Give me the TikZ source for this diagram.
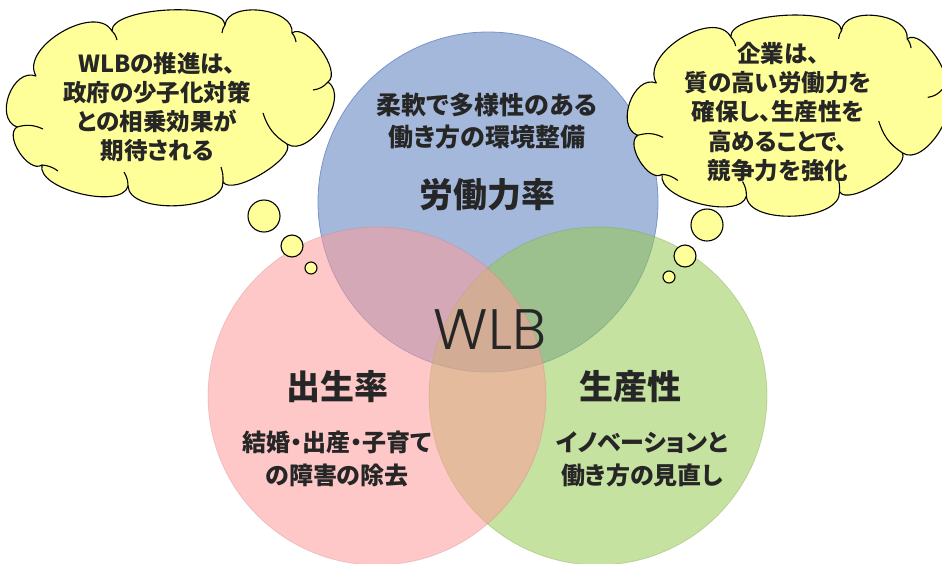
\documentclass[tikz,border=0pt]{standalone}
\usepackage{fontspec}
\usetikzlibrary{calc}
\IfFontExistsTF{Noto Sans CJK JP Black}{\newfontfamily\jpb{Noto Sans CJK JP Black}[RawFeature=+palt]}{%
\IfFontExistsTF{Noto Sans CJK JP Bold}{\newfontfamily\jpb{Noto Sans CJK JP Bold}[RawFeature=+palt,FakeBold=1.3]}{\newfontfamily\jpb{Noto Sans CJK JP}[RawFeature=+palt,FakeBold=2.5]}}
\IfFontExistsTF{Poppins Light}{\newfontfamily\wlbf{Poppins Light}}{\newfontfamily\wlbf{Poppins}}
\definecolor{bluefill}{RGB}{164,184,219}
\definecolor{blueline}{RGB}{120,148,200}
\definecolor{pinkfill}{RGB}{255,155,155}
\definecolor{greenfill}{RGB}{151,202,82}
\definecolor{cloudfill}{RGB}{255,255,153}
\definecolor{txt}{RGB}{38,38,38}
\tikzset{
  venn/.style={circle, inner sep=0pt, minimum size=#1},
  cloudline/.style={draw=black, line width=1.1pt, line join=round},
  bubble/.style={circle, draw=black, line width=1.1pt, fill=cloudfill, inner sep=0pt, minimum size=#1},
  jtext/.style={text=txt, align=center, inner sep=0pt},
}
% one puff of a cloud, from #1 to #2, bulging outwards by the control length #3
\newcommand{\pf}[3]{.. controls ($(#1)!#3!90:(#2)$) and ($(#2)!#3!-90:(#1)$) .. (#2)}
\newcommand{\cloudshape}[1]{%
  \coordinate (#1c1) at (36,76);
  \coordinate (#1c2) at (112,31);
  \coordinate (#1c3) at (225,25);
  \coordinate (#1c4) at (292,33);
  \coordinate (#1c5) at (328,82);
  \coordinate (#1c6) at (287,144);
  \coordinate (#1c7) at (223,182);
  \coordinate (#1c8) at (128,186);
  \coordinate (#1c9) at (42,165);
  \coordinate (#1c10) at (17,127);
  \filldraw[cloudline, fill=cloudfill] (#1c1) \pf{#1c1}{#1c2}{33pt} \pf{#1c2}{#1c3}{24pt}
     \pf{#1c3}{#1c4}{25pt} \pf{#1c4}{#1c5}{18pt} \pf{#1c5}{#1c6}{27pt}
     \pf{#1c6}{#1c7}{17pt} \pf{#1c7}{#1c8}{29pt} \pf{#1c8}{#1c9}{25pt}
     \pf{#1c9}{#1c10}{16pt} \pf{#1c10}{#1c1}{25pt} -- cycle;
  \coordinate (#1k1) at (43,129);
  \coordinate (#1k2) at (58,171);
  \coordinate (#1k3) at (124,172);
  \coordinate (#1k4) at (221,167);
  \coordinate (#1k5) at (263,113);
  \coordinate (#1k6) at (313,90);
  \coordinate (#1k7) at (296,42);
  \coordinate (#1k8) at (222,33);
  \coordinate (#1k9) at (117,40);
  \draw[cloudline] (#1c10) to[bend left=20] (#1k1);
  \draw[cloudline] (#1c9) to[bend left=15] (#1k2);
  \draw[cloudline] (#1c8) to[bend right=15] (#1k3);
  \draw[cloudline] (#1c7) to[bend right=10] (#1k4);
  \draw[cloudline] (#1c6) to[bend left=20] (#1k5);
  \draw[cloudline] (#1c5) to[bend left=20] (#1k6);
  \draw[cloudline] (#1c4) to[bend left=15] (#1k7);
  \draw[cloudline] (#1c3) to[bend right=15] (#1k8);
  \draw[cloudline] (#1c2) to[bend left=15] (#1k9);
}
\begin{document}
\begin{tikzpicture}[x=1pt,y=-1pt]
\useasboundingbox (0,0) rectangle (942,563);
\clip (0,0) rectangle (942,563);
% Venn circles
\node[venn=340pt, fill=bluefill, draw=blueline, line width=0.8pt] (blue) at (488,202) {};
\node[venn=338pt, fill=greenfill, fill opacity=0.55, draw=greenfill!80!black, draw opacity=0.35, line width=0.8pt] (green) at (598,396) {};
\node[venn=338pt, fill=pinkfill, fill opacity=0.55, draw=pinkfill!80!black, draw opacity=0.3, line width=0.8pt] (pink) at (377,396) {};
% thought clouds
\begin{scope}
  \cloudshape{L}
\end{scope}
\begin{scope}[shift={(621,5)}, xscale=0.98, yscale=1.026]
  \cloudshape{R}
\end{scope}
\node[bubble=32pt] (bl1) at (264,216) {};
\node[bubble=22pt] (bl2) at (292,246) {};
\node[bubble=12pt] (bl3) at (311,268) {};
\node[bubble=32pt] (br1) at (707,225) {};
\node[bubble=22pt] (br2) at (685,256) {};
\node[bubble=12pt] (br3) at (669,277) {};
% texts
\node[jtext, font=\jpb\fontsize{23.5}{29}\selectfont] (tl) at (157,107) {WLBの推進は、\\政府の少子化対策\\との相乗効果が\\期待される};
\node[jtext, font=\jpb\fontsize{23.5}{29.2}\selectfont] (tr) at (778,112) {企業は、\\質の高い労働力を\\確保し、生産性を\\高めることで、\\競争力を強化};
\node[jtext, font=\jpb\fontsize{25}{32}\selectfont] (bsub) at (487,121) {柔軟で多様性のある\\働き方の環境整備};
\node[jtext, font=\jpb\fontsize{34}{40}\selectfont] (btitle) at (487,195) {労働力率};
\node[jtext, font=\jpb\fontsize{34}{40}\selectfont] (ptitle) at (337,387) {出生率};
\node[jtext, font=\jpb\fontsize{24}{33}\selectfont] (psub) at (337,459) {結婚・出産・子育て\\の障害の除去};
\node[jtext, font=\jpb\fontsize{34}{40}\selectfont] (gtitle) at (630,387) {生産性};
\node[jtext, font=\jpb\fontsize{24}{33}\selectfont] (gsub) at (642,459) {イノベーションと\\働き方の見直し};
\node[text=txt, inner sep=0pt, font=\wlbf\fontsize{57}{66}\selectfont] (wlb) at (490,330) {WLB};
\end{tikzpicture}
\end{document}
